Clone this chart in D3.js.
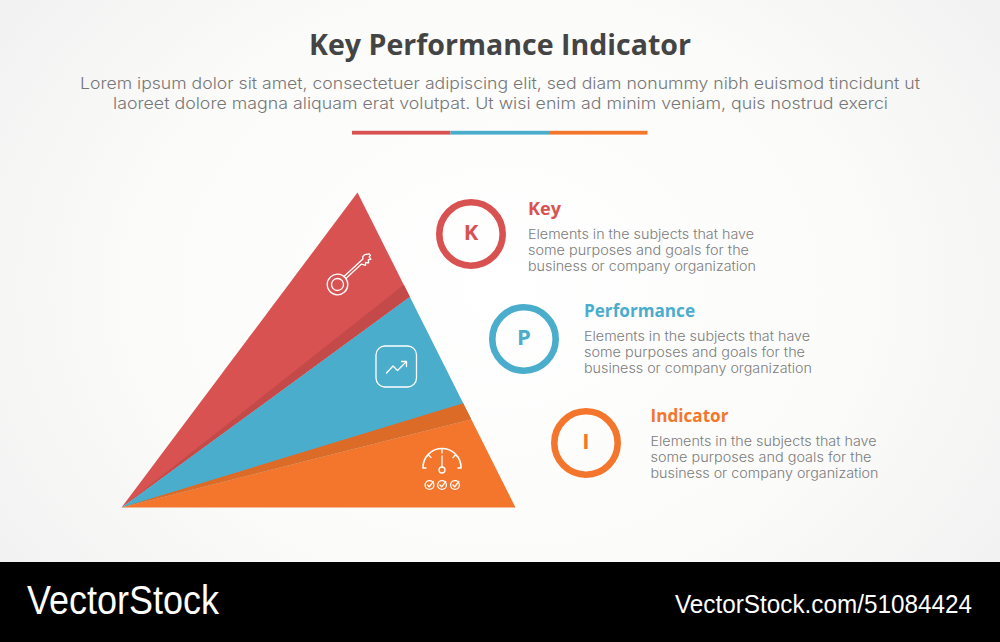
<!DOCTYPE html>
<html><head><meta charset="utf-8">
<style>html,body{margin:0;padding:0;background:#fff}svg{display:block}text{font-family:Inter,"Open Sans",sans-serif}</style>
<script src="https://cdn.jsdelivr.net/npm/d3@7"></script></head><body>
<script>
const title = "Key Performance Indicator";
const subtitle = ["Lorem ipsum dolor sit amet, consectetuer adipiscing elit, sed diam nonummy nibh euismod tincidunt ut",
                  "laoreet dolore magna aliquam erat volutpat. Ut wisi enim ad minim veniam, quis nostrud exerci"];
const categories = ["Key","Performance","Indicator"];
const initials = ["K","P","I"];
const descLines = ["Elements in the subjects that have","some purposes and goals for the","business or company organization"];
const colors = ["#d95252","#4badcc","#f4762d"];
const shadeColors = ["#c44a4a","#dc6b27"];
// boundaries down the right edge of the triangle, as a share of its height
const sliceStart = [0, 0.331, 0.72];
const sliceEnd = [0.331, 0.72, 1];
const shadeStart = [0.293, 0.669];
const shadeEnd = [0.331, 0.72];
const footerLeft = "VectorStock";
const footerRight = "VectorStock.com/51084424";

const W=1000,H=642;
const svg=d3.select("body").append("svg").attr("width",W).attr("height",H).attr("viewBox",[0,0,W,H]);
const defs=svg.append("defs");
const g=defs.append("radialGradient").attr("id","bg").attr("gradientUnits","userSpaceOnUse")
  .attr("cx",500).attr("cy",290).attr("r",600).attr("gradientTransform","translate(0 58) scale(1 .8)");
g.append("stop").attr("offset","0%").attr("stop-color","#ffffff");
g.append("stop").attr("offset","60%").attr("stop-color","#fbfbfa");
g.append("stop").attr("offset","100%").attr("stop-color","#f1f2f1");
svg.append("rect").attr("width",W).attr("height",562).attr("fill","url(#bg)");
svg.append("rect").attr("y",562).attr("width",W).attr("height",80).attr("fill","#000");

function fit(sel,w){sel.attr("textLength",w).attr("lengthAdjust","spacingAndGlyphs");return sel;}

fit(svg.append("text").attr("x",309).attr("y",55).text(title)
  .style("font-family","'Open Sans'").attr("font-weight",700).attr("font-size",29).attr("fill","#444444"),382);
const subX=[80,113],subW=[840,775],subY=[89,109];
subtitle.forEach((s,i)=>fit(svg.append("text").attr("x",subX[i]).attr("y",subY[i]).text(s)
  .attr("font-size",16.5).attr("font-weight",300).attr("fill","#777777"),subW[i]));

// rule under the header
const ruleX=d3.scaleBand().domain(categories).range([352,647.5]);
svg.selectAll(".rule").data(categories).join("rect").attr("x",d=>ruleX(d)).attr("y",130.8)
  .attr("width",ruleX.bandwidth()).attr("height",3.8).attr("fill",(d,i)=>colors[i]);

// pyramid
const edgeX=d3.scaleLinear().domain([0,1]).range([357.5,515.5]);
const edgeY=d3.scaleLinear().domain([0,1]).range([192.5,507.5]);
const origin=[121.5,507.5];
const wedge=(a,b)=>{
  const pts=[origin,[edgeX(a),edgeY(a)],[edgeX(b),edgeY(b)]];
  return d3.line()(pts)+"Z";
};
const pyr=svg.append("g");
pyr.selectAll(".slice").data(categories).join("path").attr("d",(d,i)=>wedge(sliceStart[i],sliceEnd[i]))
  .attr("fill",(d,i)=>colors[i]);
pyr.selectAll(".shade").data(shadeStart).join("path").attr("d",(d,i)=>wedge(shadeStart[i],shadeEnd[i]))
  .attr("fill",(d,i)=>shadeColors[i]);

// icons
const ic=svg.append("g").attr("fill","none").attr("stroke","#fff").attr("stroke-width",1.3)
  .attr("stroke-linecap","round").attr("stroke-linejoin","round");
const key=ic.append("g").attr("transform","translate(337.5,284.5) rotate(-43)");
key.append("circle").attr("r",10.3);
key.append("circle").attr("r",6);
key.append("path").attr("d","M10.2,-1.4 L36,-1.4 L37.5,-3.2 L40.5,-3.2 L44,-0.8 L44,1.2 L42,1.4 L41.5,4.4 L39.5,2.8 L37.5,5.4 L35.5,3 L33.5,5.2 L31.5,1.4 L10.2,1.4");
ic.append("rect").attr("x",376).attr("y",346).attr("width",40.5).attr("height",41).attr("rx",9);
ic.append("path").attr("d","M386.5,373 L393,366 L397.5,370.5 L406,362");
ic.append("path").attr("d","M401.5,361.5 L406.5,361.5 L406.5,366.5");
ic.append("path").attr("d","M423,467.5 A19,19 0 0 1 461,467.5").attr("stroke-width",1.6);
ic.append("path").attr("d","M423,468 L426,468 M461,468 L458,468 M442,449 L442,453 M428.5,455 L431,457.5 M455.5,455 L453,457.5");
ic.append("path").attr("d","M442,456 L442,467");
ic.append("circle").attr("cx",442).attr("cy",470).attr("r",3);
[429.5,442,455].forEach(cx=>{
  ic.append("circle").attr("cx",cx).attr("cy",485).attr("r",4.4);
  ic.append("path").attr("d",`M${cx-2},485 L${cx-.3},486.8 L${cx+3.8},481.5`);
});

// legend items
const cx=[471,524,586],cy=[234,339,443],hx=[528,584,650.5],hy=[215,317,422],dy=[238,340,445],hw=[33,111,78];
categories.forEach((c,i)=>{
  svg.append("circle").attr("cx",cx[i]).attr("cy",cy[i]).attr("r",31.7).attr("fill","none")
    .attr("stroke",colors[i]).attr("stroke-width",6.6);
  svg.append("text").attr("x",cx[i]).attr("y",cy[i]+6).attr("text-anchor","middle").text(initials[i])
    .style("font-family","'Open Sans'").attr("font-weight",700).attr("font-size",22).attr("fill",colors[i]);
  fit(svg.append("text").attr("x",hx[i]).attr("y",hy[i]).text(c)
    .style("font-family","'Open Sans'").attr("font-weight",700).attr("font-size",18).attr("fill",colors[i]),hw[i]);
  const lw=[226,221,228];
  descLines.forEach((l,j)=>fit(svg.append("text").attr("x",hx[i]).attr("y",dy[i]+j*16+.5).text(l)
    .attr("font-size",13).attr("font-weight",300).attr("fill","#7c7c7c"),lw[j]));
});

// footer
fit(svg.append("text").attr("x",27).attr("y",614).text(footerLeft).style("font-family","'Liberation Sans'")
  .attr("font-size",40).attr("fill","#fff"),192);
fit(svg.append("text").attr("x",675).attr("y",613).text(footerRight).style("font-family","'Liberation Sans'")
  .attr("font-size",26).attr("fill","#fff"),297);
</script></body></html>
